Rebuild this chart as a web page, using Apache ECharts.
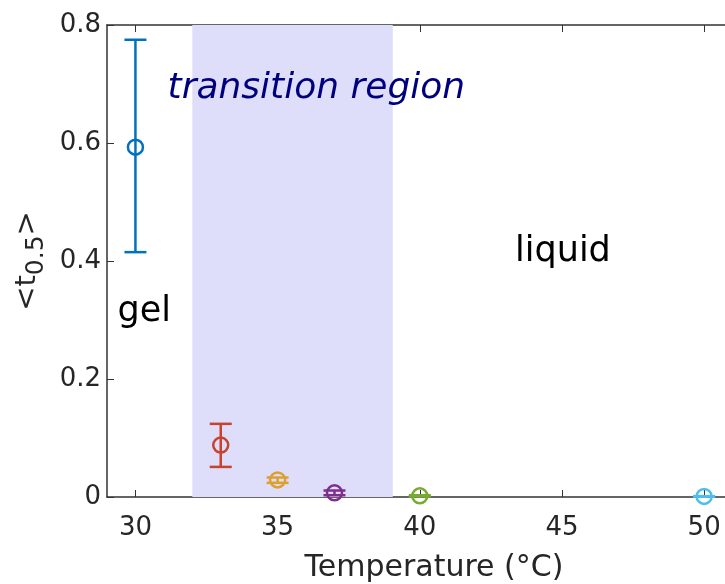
<!DOCTYPE html>
<html>
<head>
<meta charset="utf-8">
<script src="https://cdn.jsdelivr.net/npm/echarts@6/dist/echarts.min.js"></script>
<style>
    html, body { margin: 0; padding: 0; background: #fff; overflow: hidden; }
    #chart { width: 725px; height: 584px; }
</style>
</head>
<body>
<div id="chart"></div>
<script>
/* ===== data ===== */
const temps = [30, 33, 35, 37, 40, 50];
const means = [0.593, 0.088, 0.029, 0.007, 0.002, 0.001];
const lower = [0.415, 0.051, 0.024, 0.003, 0.001, 0.0005];
const upper = [0.775, 0.124, 0.033, 0.011, 0.003, 0.0015];
const colors = ["#0072BD", "#C8432E", "#DDA02E", "#7E2F8E", "#77AC30", "#4DBEEE"];
const xTicks = [30, 35, 40, 45, 50];
const transition = [32, 39.05];
const notes = [
    { text: "transition region", x: 31.13, y: 0.692, color: "#00007F", italic: true },
    { text: "gel", x: 29.37, y: 0.313, color: "#000", italic: false },
    { text: "liquid", x: 43.35, y: 0.415, color: "#000", italic: false },
];

const FONT = "DejaVu Sans";
const AXIS_COLOR = "#333";
const LABEL_COLOR = "#262626";

const chart = echarts.init(document.getElementById("chart"));

const errData = temps.map((t, i) => [t, lower[i], upper[i], i]);
const ptData = temps.map((t, i) => ({
    value: [t, means[i]],
    itemStyle: { borderColor: colors[i], color: "rgba(0,0,0,0)", borderWidth: 2.5, opacity: 1 },
}));

function renderErr(params, api) {
    const x = api.value(0);
    const lo = api.coord([x, api.value(1)]);
    const hi = api.coord([x, api.value(2)]);
    const c = colors[api.value(3)];
    const w = 11;
    const style = { stroke: c, lineWidth: 2.5 };
    return {
        type: "group",
        children: [
            { type: "line", shape: { x1: lo[0], y1: lo[1], x2: hi[0], y2: hi[1] }, style },
            { type: "line", shape: { x1: lo[0] - w, y1: lo[1], x2: lo[0] + w, y2: lo[1] }, style },
            { type: "line", shape: { x1: hi[0] - w, y1: hi[1], x2: hi[0] + w, y2: hi[1] }, style },
        ],
    };
}

const xBase = {
    type: "value",
    min: 29,
    max: 52,
    splitLine: { show: false },
    axisLine: { show: true, onZero: false, lineStyle: { color: AXIS_COLOR, width: 1.5 } },
    axisTick: { show: true, inside: true, length: 7, customValues: xTicks, lineStyle: { color: AXIS_COLOR } },
};

chart.setOption({
    animation: false,
    textStyle: { fontFamily: FONT },
    grid: { left: 107, right: -36, top: 25, bottom: 87, outerBoundsMode: "none", containLabel: false },
    xAxis: [
        Object.assign({}, xBase, {
            position: "bottom",
            name: "Temperature (°C)",
            nameLocation: "middle",
            nameGap: 56,
            nameTextStyle: { fontSize: 30, color: LABEL_COLOR, fontFamily: FONT },
            axisLabel: { customValues: xTicks, fontSize: 26, color: LABEL_COLOR, margin: 18, fontFamily: FONT },
        }),
        Object.assign({}, xBase, { position: "top", axisLabel: { show: false } }),
    ],
    yAxis: {
        type: "value",
        min: 0,
        max: 0.8,
        interval: 0.2,
        splitLine: { show: false },
        axisLine: { show: true, lineStyle: { color: AXIS_COLOR, width: 1.5 } },
        axisTick: { show: true, inside: true, length: 7, lineStyle: { color: AXIS_COLOR } },
        axisLabel: {
            fontSize: 26, color: LABEL_COLOR, margin: 6, fontFamily: FONT,
            formatter: v => (v === 0 ? "0" : v.toFixed(1)),
        },
        name: "<t{sub|0.5}>",
        nameLocation: "middle",
        nameGap: 58,
        nameRotate: 90,
        nameTextStyle: {
            fontSize: 29, color: LABEL_COLOR, fontFamily: FONT,
            rich: { sub: { fontSize: 25, color: LABEL_COLOR, fontFamily: FONT, padding: [18, 0, 0, 0] } },
        },
    },
    series: [
        {
            type: "line",
            data: [],
            markArea: {
                silent: true,
                itemStyle: { color: "#DEDEFB" },
                data: [[{ xAxis: transition[0], yAxis: 0 }, { xAxis: transition[1], yAxis: 0.8 }]],
            },
        },
        { type: "custom", renderItem: renderErr, data: errData, z: 3 },
        { type: "scatter", symbol: "circle", symbolSize: 15, data: ptData, z: 4 },
    ],
});

/* ===== text notes ===== */
chart.setOption({
    graphic: notes.map(n => {
        const p = chart.convertToPixel({ gridIndex: 0 }, [n.x, n.y]);
        return {
            type: "text",
            x: p[0],
            y: p[1],
            z: 10,
            style: {
                text: n.text,
                fill: n.color,
                fontSize: n.italic ? 36 : 35,
                fontStyle: n.italic ? "italic" : "normal",
                fontFamily: FONT,
                textVerticalAlign: "middle",
            },
        };
    }),
});
</script>
</body>
</html>
